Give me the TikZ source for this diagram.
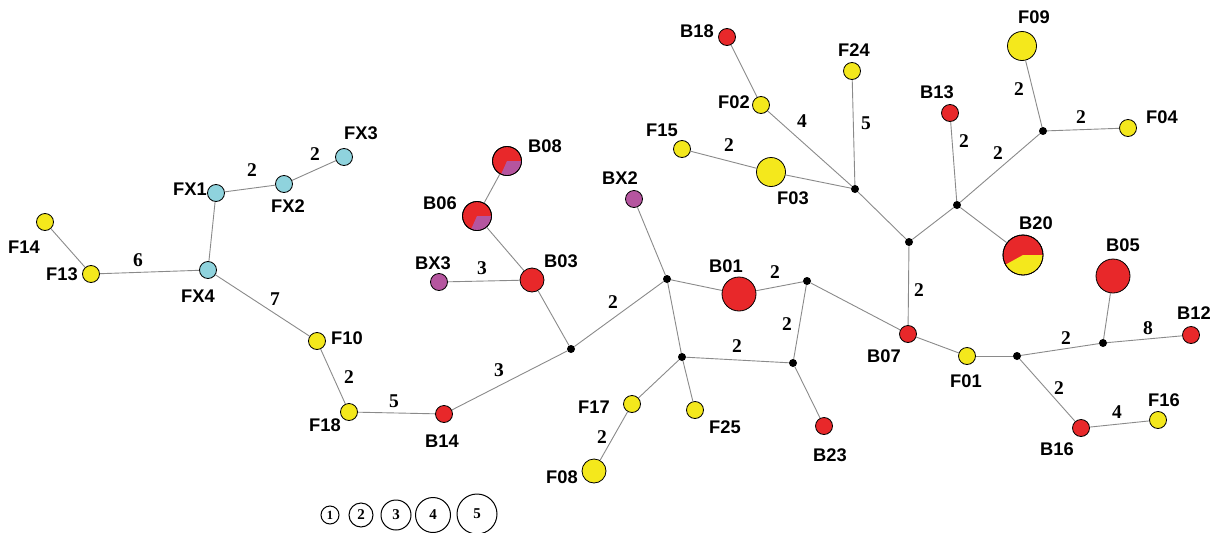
\documentclass[tikz,border=0pt]{standalone}
\usepackage{fontspec}
\setmainfont{Liberation Serif}
\newfontfamily\labfont{Liberation Sans}
\definecolor{nred}{HTML}{E8282A}
\definecolor{nyel}{HTML}{F4E81C}
\definecolor{ncyan}{HTML}{8FD3DD}
\definecolor{nmag}{HTML}{B5559F}
\definecolor{edgegray}{HTML}{8A8A8A}
\tikzset{
  nd/.style={circle, draw=black, line width=0.8pt, inner sep=0pt},
  r1/.style={nd, minimum size=17pt},
  r2/.style={nd, minimum size=24pt},
  r3/.style={nd, minimum size=29pt},
  r4/.style={nd, minimum size=34pt},
  r5/.style={nd, minimum size=40pt},
  hub/.style={circle, fill=black, inner sep=0pt, minimum size=8pt},
  lbl/.style={font=\fontsize{18.3}{21}\selectfont\labfont\bfseries, inner sep=0pt},
  wt/.style={font=\fontsize{19.5}{22}\selectfont\bfseries, inner sep=0pt},
  edge/.style={draw=edgegray, line width=0.9pt},
  legc/.style={circle, draw=black, line width=1pt, inner sep=0pt, font=\fontsize{15}{17}\selectfont\bfseries},
}
\begin{document}
\begin{tikzpicture}[x=1pt, y=-1pt]
\useasboundingbox (0,0) rectangle (1216,533);

% sample nodes
\node[r1, fill=ncyan] (FX3) at (344,157) {};
\node[r1, fill=ncyan] (FX2) at (284,184) {};
\node[r1, fill=ncyan] (FX1) at (216,193) {};
\node[r1, fill=ncyan] (FX4) at (208,270) {};
\node[r1, fill=nyel] (F14) at (45,222) {};
\node[r1, fill=nyel] (F13) at (91,274) {};
\node[r1, fill=nyel] (F10) at (317,341) {};
\node[r1, fill=nyel] (F18) at (349,412) {};
\node[r1, fill=nred] (B14) at (444,414) {};
\node[r2, fill=nred] (B03) at (532,280) {};
\node[r1, fill=nmag] (BX3) at (439,282) {};
\node[r3, fill=nred] (B06) at (477,216) {};
\node[r3, fill=nred] (B08) at (507,161) {};
\node[r1, fill=nmag] (BX2) at (634,199) {};
\node[r4, fill=nred] (B01) at (739,294) {};
\node[r1, fill=nyel] (F17) at (632,404) {};
\node[r2, fill=nyel] (F08) at (594,471) {};
\node[r1, fill=nyel] (F25) at (695,410) {};
\node[r1, fill=nred] (B23) at (824,426) {};
\node[r1, fill=nred] (B07) at (908,334) {};
\node[r3, fill=nyel] (F03) at (771,172) {};
\node[r1, fill=nyel] (F15) at (682,149) {};
\node[r1, fill=nyel] (F02) at (761,105) {};
\node[r1, fill=nred] (B18) at (727,37) {};
\node[r1, fill=nyel] (F24) at (852,71) {};
\node[r1, fill=nred] (B13) at (950,113) {};
\node[r3, fill=nyel] (F09) at (1022,46) {};
\node[r1, fill=nyel] (F04) at (1128,128) {};
\node[r5, fill=nred] (B20) at (1023,255) {};
\node[r1, fill=nyel] (F01) at (967,356) {};
\node[r4, fill=nred] (B05) at (1113,276) {};
\node[r1, fill=nred] (B12) at (1191,335) {};
\node[r1, fill=nred] (B16) at (1081,428) {};
\node[r1, fill=nyel] (F16) at (1158,420) {};

% mixed samples drawn as pies
\fill[nmag] (B08.center) -- ++(0:14.1pt) arc[start angle=0, end angle=-114, radius=14.1pt] -- cycle;
\draw[line width=0.8pt] (B08.center) circle[radius=14.5pt];
\fill[nmag] (B06.center) -- ++(0:14.1pt) arc[start angle=0, end angle=-114, radius=14.1pt] -- cycle;
\draw[line width=0.8pt] (B06.center) circle[radius=14.5pt];
\fill[nyel] (B20.center) -- ++(0:19.6pt) arc[start angle=0, end angle=-151, radius=19.6pt] -- cycle;
\draw[line width=0.8pt] (B20.center) circle[radius=20pt];

% median vectors
\node[hub] (J1) at (571,349) {};
\node[hub] (J2) at (667,279) {};
\node[hub] (J3) at (807,281) {};
\node[hub] (J4) at (682,357) {};
\node[hub] (J5) at (793,363) {};
\node[hub] (J6) at (909,242) {};
\node[hub] (J7) at (855,189) {};
\node[hub] (J8) at (957,205) {};
\node[hub] (J9) at (1043,131) {};
\node[hub] (J10) at (1017,356) {};
\node[hub] (J11) at (1103,343) {};

% links
\foreach \a/\b in {FX3/FX2, FX2/FX1, FX1/FX4, F14/F13, F13/FX4, FX4/F10, F10/F18,
  F18/B14, B14/J1, J1/B03, B03/BX3, B03/B06, B06/B08, J1/J2, J2/BX2, J2/B01,
  B01/J3, J2/J4, J4/J5, J5/J3, J4/F17, F17/F08, J4/F25, J5/B23, J3/B07, B07/J6,
  J6/J7, J7/F03, F03/F15, J7/F02, F02/B18, J7/F24, J6/J8, J8/B13, J8/B20, J8/J9,
  J9/F09, J9/F04, B07/F01, F01/J10, J10/J11, J11/B05, J11/B12, J10/B16, B16/F16}
  \draw[edge] (\a) -- (\b);

% sample labels
\node[lbl] (tFX3) at (361,133) {FX3};
\node[lbl] (tFX2) at (288,206) {FX2};
\node[lbl] (tFX1) at (190,189) {FX1};
\node[lbl] (tFX4) at (198,296) {FX4};
\node[lbl] (tF14) at (24,247) {F14};
\node[lbl] (tF13) at (62,274) {F13};
\node[lbl] (tF10) at (347,338) {F10};
\node[lbl] (tF18) at (325,425) {F18};
\node[lbl] (tB14) at (442,441) {B14};
\node[lbl] (tB03) at (561,261) {B03};
\node[lbl] (tBX3) at (433,263) {BX3};
\node[lbl] (tB06) at (440,203) {B06};
\node[lbl] (tB08) at (545,146) {B08};
\node[lbl] (tBX2) at (620,178) {BX2};
\node[lbl] (tB01) at (726,266) {B01};
\node[lbl] (tF17) at (594,407) {F17};
\node[lbl] (tF25) at (725,427) {F25};
\node[lbl] (tF08) at (562,477) {F08};
\node[lbl] (tB23) at (830,455) {B23};
\node[lbl] (tB07) at (884,356) {B07};
\node[lbl] (tF01) at (966,381) {F01};
\node[lbl] (tF03) at (793,198) {F03};
\node[lbl] (tF15) at (662,130) {F15};
\node[lbl] (tF02) at (734,102) {F02};
\node[lbl] (tB18) at (697,31) {B18};
\node[lbl] (tF24) at (854,50) {F24};
\node[lbl] (tB13) at (937,92) {B13};
\node[lbl] (tF09) at (1034,17) {F09};
\node[lbl] (tF04) at (1162,117) {F04};
\node[lbl] (tB20) at (1036,223) {B20};
\node[lbl] (tB05) at (1123,245) {B05};
\node[lbl] (tB12) at (1194,313) {B12};
\node[lbl] (tB16) at (1057,449) {B16};
\node[lbl] (tF16) at (1164,400) {F16};

% mutation counts
\node[wt] (w1) at (315,154) {2};
\node[wt] (w2) at (252,170) {2};
\node[wt] (w3) at (138,260) {6};
\node[wt] (w4) at (275,299) {7};
\node[wt] (w5) at (349,377) {2};
\node[wt] (w6) at (394,401) {5};
\node[wt] (w7) at (499,370) {3};
\node[wt] (w8) at (613,302) {2};
\node[wt] (w9) at (482,268) {3};
\node[wt] (w10) at (775,272) {2};
\node[wt] (w11) at (787,324) {2};
\node[wt] (w12) at (737,346) {2};
\node[wt] (w13) at (602,437) {2};
\node[wt] (w14) at (919,290) {2};
\node[wt] (w15) at (729,145) {2};
\node[wt] (w16) at (802,121) {4};
\node[wt] (w17) at (866,123) {5};
\node[wt] (w18) at (964,141) {2};
\node[wt] (w19) at (998,153) {2};
\node[wt] (w20) at (1019,89) {2};
\node[wt] (w21) at (1081,117) {2};
\node[wt] (w22) at (1066,338) {2};
\node[wt] (w23) at (1148,328) {8};
\node[wt] (w24) at (1059,388) {2};
\node[wt] (w25) at (1117,412) {4};

% size legend
\node[legc, minimum size=18pt, font=\fontsize{12.5}{14}\selectfont\bfseries] (L1) at (330,515) {1};
\node[legc, minimum size=24pt] (L2) at (361,515) {2};
\node[legc, minimum size=30pt] (L3) at (396,515) {3};
\node[legc, minimum size=35pt] (L4) at (433,515) {4};
\node[legc, minimum size=40pt] (L5) at (477,514) {5};
\end{tikzpicture}
\end{document}
